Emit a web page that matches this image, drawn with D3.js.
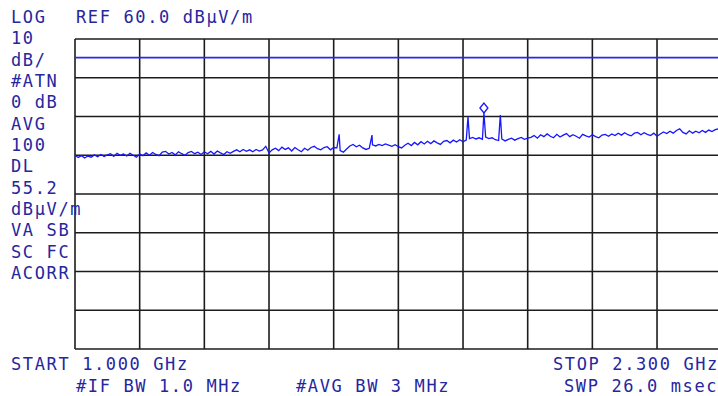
<!DOCTYPE html>
<html>
<head>
<meta charset="utf-8">
<script src="https://cdn.jsdelivr.net/npm/d3@7"></script>
<style>
  html, body { margin: 0; padding: 0; background: #fff; }
  svg { display: block; }
  .ann { font-family: "DejaVu Sans Mono", "Liberation Mono", monospace; font-size: 17px; letter-spacing: 1.62px; fill: #26269e; }
</style>
</head>
<body>
<svg id="chart" width="718" height="396"></svg>
<script>
// Sweep settings
const startGHz = 1.0;
const stopGHz = 2.3;
const refLevel = 60.0;      // dBuV/m, top graticule line
const dbPerDiv = 10;
const yDivisions = 8;
const xDivisions = 10;
const displayLine = 55.2;   // DL, dBuV/m

// Averaged trace, 201 points evenly spaced from start to stop (dBuV/m)
const traceLevels = [
  30.0, 29.4, 29.9, 29.3, 29.8, 29.5, 30.1, 29.6, 30.2, 29.7, 30.1, 30.4, 29.7, 30.5, 30.0, 30.3, 29.8, 30.5, 30.0, 29.5, 30.3,
  29.9, 30.6, 30.0, 30.7, 30.2, 29.9, 30.8, 31.0, 30.3, 30.7, 30.1, 30.9, 30.4, 30.0, 30.7, 31.0, 30.4, 30.8, 30.2, 30.9,
  30.4, 31.0, 30.3, 31.1, 30.6, 30.2, 30.9, 30.5, 31.0, 31.4, 30.9, 31.5, 31.0, 31.4, 30.9, 31.5, 31.1, 31.4, 32.3, 30.6,
  31.4, 31.8, 31.2, 32.1, 31.5, 31.9, 31.1, 32.0, 31.4, 30.9, 31.8, 31.3, 32.0, 32.3, 31.7, 31.4, 32.0, 32.2, 31.4, 32.0,
  31.9, 31.2, 30.8, 31.6, 32.4, 32.8, 32.2, 32.6, 31.9, 31.5, 31.8, 32.7, 32.4, 32.8, 32.5, 32.9, 32.6, 32.3, 32.7, 32.2,
  31.9, 32.6, 33.1, 32.5, 33.3, 32.7, 33.5, 32.9, 33.6, 33.0, 33.7, 33.2, 32.8, 33.6, 33.8, 33.2, 33.9, 33.4, 34.0, 33.5,
  33.9, 34.3, 34.6, 34.2, 34.5, 34.1, 34.7, 34.3, 34.5, 34.0, 33.8, 34.2, 33.7, 34.1, 34.4, 33.9, 34.3, 34.6, 34.1, 34.4,
  34.6, 35.1, 34.4, 35.3, 34.8, 35.5, 34.9, 34.5, 35.4, 34.7, 35.2, 35.6, 34.8, 35.3, 34.9, 34.4, 35.4, 35.0, 34.7, 35.3,
  34.8, 34.5, 35.2, 35.4, 34.9, 35.5, 35.1, 35.7, 35.2, 35.8, 35.3, 35.0, 35.7, 35.9, 35.3, 35.8, 35.4, 35.1, 35.7, 34.9,
  35.5, 36.0, 35.6, 36.2, 35.7, 36.4, 36.8, 35.9, 35.5, 36.3, 35.7, 36.2, 35.8, 36.4, 35.9, 36.5, 36.1, 36.6, 36.8, 36.8
];

// Narrow signals riding on the noise floor
const signalGHz = [1.531, 1.597, 1.790, 1.822, 1.855];
const signalDb  = [35.4, 35.2, 39.9, 40.9, 40.4];
const markerIndex = 3;      // active marker sits on this signal

// Annotation text
const leftColumn = ["LOG", "10", "dB/", "#ATN", "0 dB", "AVG", "100", "DL", "55.2", "dBµV/m", "VA SB", "SC FC", "ACORR"];
const refText = "REF 60.0 dBµV/m";
const startText = "START 1.000 GHz";
const stopText = "STOP 2.300 GHz";
const ifText = "#IF BW 1.0 MHz";
const avgText = "#AVG BW 3 MHz";
const swpText = "SWP 26.0 msec";

const svg = d3.select("#chart");
const gx0 = 75, gx1 = 721.7, gy0 = 39, gy1 = 349;

const x = d3.scaleLinear().domain([startGHz, stopGHz]).range([gx0, gx1]);
const y = d3.scaleLinear().domain([refLevel - dbPerDiv * yDivisions, refLevel]).range([gy1, gy0]);

// Graticule
const grid = svg.append("g").attr("stroke", "#1c1c1c").attr("stroke-width", 1.6);
const fStep = (stopGHz - startGHz) / xDivisions;
grid.selectAll("line.v").data(d3.range(xDivisions + 1).map(k => startGHz + k * fStep))
  .join("line").attr("class", "v")
  .attr("x1", d => x(d)).attr("x2", d => x(d))
  .attr("y1", y.range()[1]).attr("y2", y.range()[0]);
grid.selectAll("line.h").data(d3.range(yDivisions + 1).map(k => refLevel - k * dbPerDiv))
  .join("line").attr("class", "h")
  .attr("x1", x.range()[0]).attr("x2", x.range()[1])
  .attr("y1", d => y(d)).attr("y2", d => y(d));

// Display line
svg.append("line")
  .attr("x1", x.range()[0]).attr("x2", x.range()[1])
  .attr("y1", y(displayLine)).attr("y2", y(displayLine))
  .attr("stroke", "#2a2ae6").attr("stroke-width", 1.6);

// Trace: noise floor points merged with the narrow signals in frequency order
const tStep = (stopGHz - startGHz) / (traceLevels.length - 1);
const points = traceLevels.map((v, i) => ({ f: startGHz + i * tStep, v }))
  .concat(signalGHz.map((f, i) => ({ f, v: signalDb[i] })))
  .sort((a, b) => a.f - b.f);

svg.append("path")
  .datum(points)
  .attr("fill", "none")
  .attr("stroke", "#1616ff")
  .attr("stroke-width", 1.3)
  .attr("stroke-linejoin", "miter")
  .attr("d", d3.line().x(d => x(d.f)).y(d => y(d.v)));

// Marker diamond above the marked peak
const mx = x(signalGHz[markerIndex]), my = y(signalDb[markerIndex]);
svg.append("path")
  .attr("d", `M${mx},${my} L${mx + 4},${my - 5} L${mx},${my - 10} L${mx - 4},${my - 5} Z`)
  .attr("fill", "#fff").attr("stroke", "#1616ff").attr("stroke-width", 1.3);

// Annotations
const ann = svg.append("g").attr("class", "ann");
ann.selectAll("text.left").data(leftColumn).join("text").attr("class", "left")
  .attr("x", 11).attr("y", (d, i) => 23 + i * 21.33).text(d => d);
ann.append("text").attr("x", 76).attr("y", 23).text(refText);
ann.append("text").attr("x", 11).attr("y", 370).text(startText);
ann.append("text").attr("x", 553).attr("y", 370).text(stopText);
ann.append("text").attr("x", 76).attr("y", 392).text(ifText);
ann.append("text").attr("x", 296).attr("y", 392).text(avgText);
ann.append("text").attr("x", 564).attr("y", 392).text(swpText);
</script>
</body>
</html>
